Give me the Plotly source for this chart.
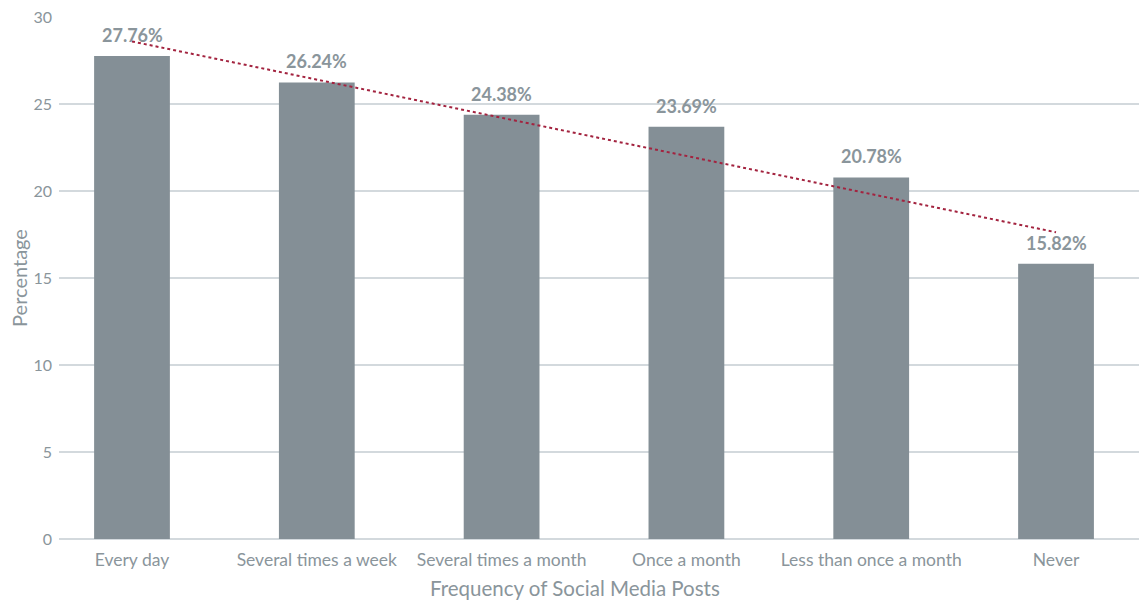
import numpy as np
import plotly.graph_objects as go

categories = ["Every day", "Several times a week", "Several times a month",
              "Once a month", "Less than once a month", "Never"]
percentages = [27.76, 26.24, 24.38, 23.69, 20.78, 15.82]
y_ticks = [0, 5, 10, 15, 20, 25, 30]

BAR = "#848f96"
TEXT = "#8a959b"
GRID = "#d3d9dd"
TREND = "#a3233f"
FONT = "Lato, 'Open Sans', sans-serif"

xs = np.arange(len(categories))
slope, intercept = np.polyfit(xs, percentages, 1)
trend = slope * xs + intercept

fig = go.Figure()
fig.add_trace(go.Bar(
    x=xs, y=percentages, width=0.41, marker=dict(color=BAR, line=dict(width=0)),
    hoverinfo="skip", showlegend=False,
))
fig.add_trace(go.Scatter(
    x=xs, y=trend, mode="lines",
    line=dict(color=TREND, width=2, dash="dot"),
    hoverinfo="skip", showlegend=False,
))

for i, v in enumerate(percentages):
    fig.add_annotation(
        x=i, y=v, text=f"<b>{v:.2f}%</b>", showarrow=False,
        yanchor="bottom", yshift=8,
        font=dict(family=FONT, size=18, color=TEXT),
    )

# x-axis title
fig.add_annotation(
    x=0.478, xref="paper", y=0, yref="paper", yshift=-49,
    yanchor="middle", showarrow=False,
    text="Frequency of Social Media Posts",
    font=dict(family=FONT, size=20.5, color=TEXT),
)

fig.update_layout(
    width=1139, height=600,
    margin=dict(l=59, r=0, t=17, b=61),
    paper_bgcolor="white", plot_bgcolor="white",
    font=dict(family=FONT, color=TEXT),
    xaxis=dict(
        range=[-0.395, 5.449],
        tickmode="array", tickvals=list(xs), ticktext=categories,
        tickfont=dict(size=17.5, color=TEXT),
        showgrid=False, zeroline=False, showline=False, ticks="",
        ticklabelstandoff=8,
    ),
    yaxis=dict(
        range=[0, 30], tickvals=y_ticks,
        tickfont=dict(size=16, color=TEXT),
        showgrid=True, gridcolor=GRID, gridwidth=1.5,
        zeroline=True, zerolinecolor=GRID, zerolinewidth=2,
        showline=False, ticks="", ticklabelstandoff=6,
        title=dict(text="Percentage", font=dict(size=20, color=TEXT), standoff=0),
    ),
)

fig.write_html("out.html")
